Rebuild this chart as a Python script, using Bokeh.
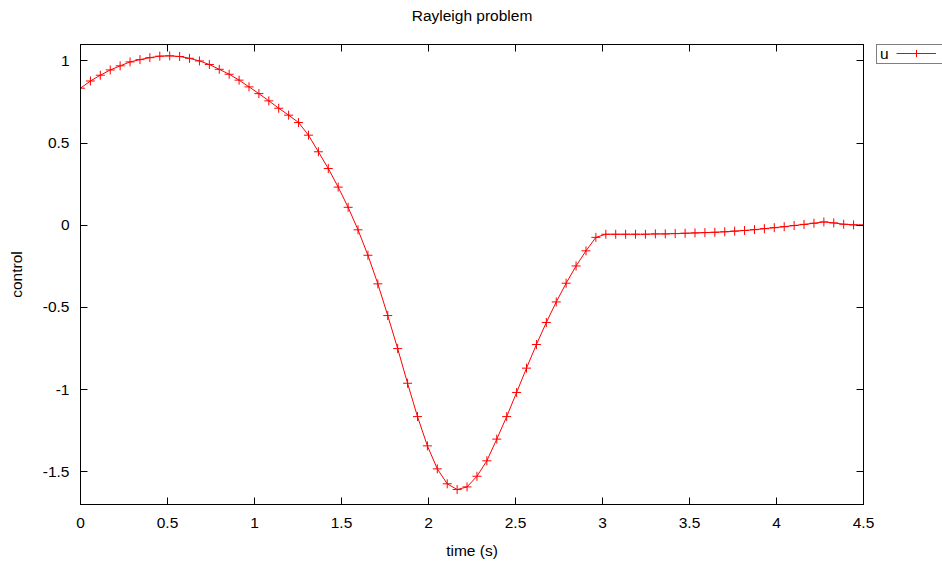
from bokeh.plotting import figure
from bokeh.layouts import row
from bokeh.models import (LinearAxis, FixedTicker, CustomJSTickFormatter, Legend,
                          LegendItem, Range1d, ColumnDataSource, CustomLabelingPolicy)
from bokeh.embed import file_html
from bokeh.resources import INLINE

time_s = [0.0, 0.0570, 0.1139, 0.1709, 0.2278, 0.2848, 0.3418, 0.3987, 0.4557, 0.5127,
          0.5696, 0.6266, 0.6835, 0.7405, 0.7975, 0.8544, 0.9114, 0.9684, 1.0253, 1.0823,
          1.1392, 1.1962, 1.2532, 1.3101, 1.3671, 1.4241, 1.4810, 1.5380, 1.5949, 1.6519,
          1.7089, 1.7658, 1.8228, 1.8797, 1.9367, 1.9937, 2.0506, 2.1076, 2.1646, 2.2215,
          2.2785, 2.3354, 2.3924, 2.4494, 2.5063, 2.5633, 2.6203, 2.6772, 2.7342, 2.7911,
          2.8481, 2.9051, 2.9620, 3.0190, 3.0759, 3.1329, 3.1899, 3.2468, 3.3038, 3.3608,
          3.4177, 3.4747, 3.5316, 3.5886, 3.6456, 3.7025, 3.7595, 3.8165, 3.8734, 3.9304,
          3.9873, 4.0443, 4.1013, 4.1582, 4.2152, 4.2722, 4.3291, 4.3861, 4.4430, 4.5000]

control = [0.834, 0.878, 0.913, 0.945, 0.970, 0.994, 1.008, 1.020, 1.029, 1.031,
           1.027, 1.016, 1.000, 0.978, 0.949, 0.919, 0.883, 0.842, 0.801, 0.757,
           0.712, 0.670, 0.625, 0.548, 0.447, 0.345, 0.232, 0.109, -0.028, -0.183,
           -0.357, -0.550, -0.751, -0.962, -1.165, -1.343, -1.483, -1.574, -1.609, -1.593,
           -1.528, -1.434, -1.302, -1.165, -1.018, -0.870, -0.726, -0.592, -0.467, -0.353,
           -0.248, -0.156, -0.074, -0.055, -0.055, -0.055, -0.055, -0.055, -0.053, -0.053,
           -0.051, -0.049, -0.047, -0.045, -0.043, -0.040, -0.036, -0.032, -0.027, -0.021,
           -0.015, -0.009, -0.002, 0.005, 0.012, 0.020, 0.014, 0.006, 0.002, 0.001]

x_ticks = [0, 0.5, 1, 1.5, 2, 2.5, 3, 3.5, 4, 4.5]
y_ticks = [-1.5, -1, -0.5, 0, 0.5, 1]

FONT = "Liberation Sans"
FS = "15.5px"
RED = "#ff0000"

src = ColumnDataSource(dict(t=time_s, u=control))

p = figure(width=875, height=565, output_backend="svg", toolbar_location=None,
           x_range=Range1d(0, 4.5), y_range=Range1d(-1.7, 1.1),
           min_border_left=80, min_border_right=12, min_border_top=44, min_border_bottom=61,
           x_axis_label="time (s)", y_axis_label="control")

p.grid.visible = False
p.outline_line_color = "black"
p.outline_line_width = 1
p.background_fill_color = "white"
p.border_fill_color = "white"

fmt = CustomJSTickFormatter(code="return tick.toString();")
hide_all = CustomLabelingPolicy(
    code="for (let i = 0; i < indices.size; i++) { indices.unset(i) } return indices;")

def style_axis(ax, ticks, labels=True):
    ax.ticker = FixedTicker(ticks=ticks)
    ax.formatter = fmt
    ax.major_tick_in = 7
    ax.major_tick_out = 0
    ax.minor_tick_line_color = None
    ax.axis_line_color = "black"
    ax.major_tick_line_color = "black"
    ax.major_label_text_font = FONT
    ax.major_label_text_font_size = FS if labels else "0px"
    ax.major_label_text_color = "black"
    ax.axis_label_text_font = FONT
    ax.axis_label_text_font_size = FS
    ax.axis_label_text_font_style = "normal"
    ax.axis_label_text_color = "black"
    if not labels:
        ax.major_label_policy = hide_all

style_axis(p.xaxis[0], x_ticks)
style_axis(p.yaxis[0], y_ticks)
p.xaxis[0].major_label_standoff = 13
p.xaxis[0].axis_label_standoff = 11
p.yaxis[0].major_label_standoff = 11
p.yaxis[0].axis_label_standoff = 15

# mirror axis on top carries the chart title
top_ax = LinearAxis(axis_label="Rayleigh problem")
style_axis(top_ax, x_ticks, labels=False)
top_ax.axis_label_standoff = 21
p.add_layout(top_ax, "above")

# mirror axis on the right
right_ax = LinearAxis()
style_axis(right_ax, y_ticks, labels=False)
p.add_layout(right_ax, "right")

line_r = p.line("t", "u", source=src, line_color=RED, line_width=1)
pts_r = p.scatter("t", "u", source=src, marker="cross", size=9,
                  line_color=RED, line_width=1)

# key to the right of the frame (gnuplot puts the key outside)
k = figure(width=67, height=565, output_backend="svg", toolbar_location=None,
           x_range=Range1d(-10, -9), y_range=Range1d(-10, -9),
           x_axis_type=None, y_axis_type=None,
           min_border_left=1, min_border_right=0, min_border_top=43, min_border_bottom=0)
k.grid.visible = False
k.outline_line_color = None
k.background_fill_color = "white"
k.border_fill_color = "white"
k_line = k.line("t", "u", source=src, line_color=RED, line_width=1)
k_pts = k.scatter("t", "u", source=src, marker="cross", size=9,
                  line_color=RED, line_width=1)

common = dict(padding=0, margin=0, spacing=0, glyph_height=18, label_height=18,
              label_text_font=FONT, label_text_font_size=FS,
              label_text_color="black", label_text_baseline="middle")

# key title on the left, with the box spanning the whole key ...
key_text = Legend(items=[LegendItem(label="u", renderers=[k_line])],
                  location="top_left", glyph_width=0, label_standoff=3,
                  label_width=62, border_line_color="black", border_line_width=1,
                  background_fill_color="white", background_fill_alpha=1, **common)
# ... and the line sample on the right
key_sample = Legend(items=[LegendItem(label="", renderers=[k_line, k_pts])],
                    location="top_right", glyph_width=40, label_standoff=0,
                    label_width=6, border_line_color=None,
                    background_fill_alpha=0, **common)
k.add_layout(key_text)
k.add_layout(key_sample)

layout = row(p, k, spacing=0)
open("out.html", "w").write(file_html(layout, INLINE))
